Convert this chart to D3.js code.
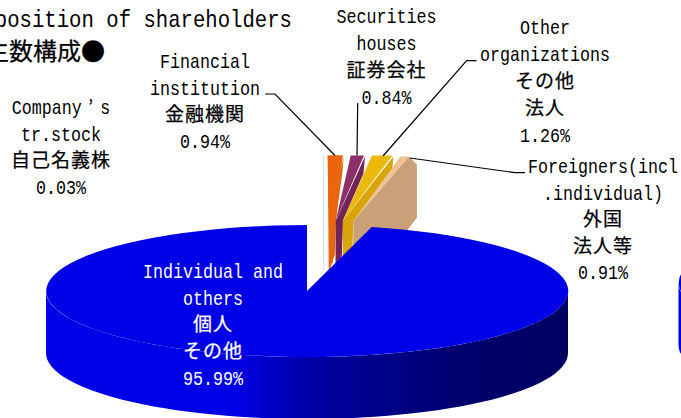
<!DOCTYPE html>
<html>
<head>
  <meta charset="utf-8">
  <title>Composition of shareholders</title>
  <script src="https://d3js.org/d3.v7.min.js"></script>
  <style type="text/css">
    html, body { margin: 0; padding: 0; background: #fff; overflow: hidden; }
    svg { display: block; }
    .latin { font-family: "Liberation Mono", monospace; font-size: 20px; }
    .cjk { font-family: "Noto Sans CJK JP", sans-serif; font-size: 19px; letter-spacing: 1px; stroke: currentColor; stroke-width: 0.25px; }
  </style>
</head>
<body>
  <svg id="chart" width="681" height="418"></svg>
  <script type="text/javascript">
    // values, in pie order (clockwise from the notch)
    const categories = ["Company's tr.stock", "Financial institution", "Securities houses", "Other organizations", "Foreigners(incl.individual)", "Individual and others"];
    const shares = [0.03, 0.94, 0.84, 1.26, 0.91, 95.99];
    const shareLabels = ["0.03%", "0.94%", "0.84%", "1.26%", "0.91%", "95.99%"];
    const labelLines = [
      ["Company’s", "tr.stock", "自己名義株"],
      ["Financial", "institution", "金融機関"],
      ["Securities", "houses", "証券会社"],
      ["Other", "organizations", "その他", "法人"],
      ["Foreigners(incl", ".individual)", "外国", "法人等"],
      ["Individual and", "others", "個人", "その他"]
    ];
    const titleLines = ["Composition of shareholders", "株主数構成●"];

    const width = 681, height = 418;
    const svg = d3.select("#chart");

    // colours: [top face, side face]
    const sliceColors = [["#a9c6c8", "#a9c6c8"], ["#ea650c", "#dc5e08"], ["#8b3068", "#722456"], ["#ebb90a", "#d8a406"], ["#efc193", "#c9a078"]];
    const blue = "#0000e6";

    const grad = svg.append("defs").append("linearGradient").attr("id", "wall");
    [[0, "#0000e6"], [0.36, "#0000e6"], [0.5, "#0000a8"], [0.6, "#000090"], [0.78, "#000070"], [1, "#000060"]]
      .forEach(s => grad.append("stop").attr("offset", s[0]).attr("stop-color", s[1]));

    // big flat pie
    const pieData = d3.pie().sort(null)(shares);
    const blueSlice = pieData[pieData.length - 1];
    const unitArc = d3.arc().innerRadius(0).outerRadius(1);
    const rx = 261, ry = 66, depth = 62;

    function drawPie(cx, cy) {
      const front = d3.range(0, 61).map(i => Math.PI / 2 + Math.PI * i / 60);
      const pts = front.map(a => [cx + rx * Math.sin(a), cy - ry * Math.cos(a)]);
      const lower = pts.map(p => [p[0], p[1] + depth]).reverse();
      svg.append("path")
        .attr("d", d3.line()(pts.concat(lower)) + "Z")
        .attr("fill", "url(#wall)");
      svg.append("path")
        .attr("d", unitArc(blueSlice))
        .attr("transform", `translate(${cx},${cy}) scale(${rx},${ry})`)
        .attr("fill", blue);
    }

    // small slices pulled out of the notch: rim width and apex follow the share
    const rimY = 155.5, wedgeDrop = 14, apexY = 221;
    const small = shares.slice(0, 5);
    const cum = d3.cumsum(small);
    const rimScale = d3.scaleLinear().domain([0, 1]).range([0, 17]);
    const apexX = d3.scaleLinear().domain([0, d3.max(cum) - small[4]]).range([327.6, 353.3]);

    let cursor = 323.2;
    const wedges = small.map((v, i) => {
      const x0 = cursor, x1 = x0 + rimScale(v);
      cursor = x1 + (i === 0 ? 4 : 7);
      const start = i === 0 ? 0 : cum[i - 1];
      return { i, x0, x1, ax: apexX(start) + (i === 1 ? 1 : 0) };
    });

    const poly = d3.line();
    const gLines = svg.append("g");

    // company's own stock is only a hair line
    const hair = wedges[0];
    gLines.append("path")
      .attr("d", poly([[hair.x0, rimY], [hair.x1, rimY], [hair.x1, 270], [hair.x0, 270]]) + "Z")
      .attr("fill", sliceColors[0][0]);

    wedges.slice(1).forEach(w => {
      const next = wedges[w.i + 1];
      const A = [w.ax, apexY];
      let wall, top;
      if (next) {
        wall = [A, [w.x1, rimY + 1], [w.x1 - 1.5, rimY + wedgeDrop + 4], [next.ax, apexY], [next.ax - 1, apexY + 34], [w.ax, apexY + 50]];
        top = [A, [w.x0, rimY], [w.x1 - 1, rimY]];
      } else {
        wall = [A, [w.x1 - 7, rimY + 1], [w.x1 + 1, rimY + 9], [w.x1 + 1, rimY + 62], [w.x1 - 8, rimY + 74], [w.ax, apexY + 50]];
        top = [A, [w.x0, rimY + 1], [w.x1 - 7, rimY + 1]];
      }
      gLines.append("path").attr("d", poly(wall) + "Z").attr("fill", sliceColors[w.i][1]);
      gLines.append("path").attr("d", poly(top) + "Z").attr("fill", sliceColors[w.i][0]);
    });

    // orange keeps its light face down to the tip
    const orange = wedges[1];
    gLines.append("path")
      .attr("d", poly([[orange.x0, rimY], [orange.x1 - 1, rimY], [orange.ax + 7, apexY], [orange.ax + 4, 262], [orange.ax, 270]]) + "Z")
      .attr("fill", sliceColors[1][0]);
    const purple = wedges[2], yellow = wedges[3];
    gLines.append("path")
      .attr("d", poly([[purple.ax, apexY], [yellow.ax, apexY], [yellow.ax - 1, apexY + 34], [purple.ax, apexY + 50]]) + "Z")
      .attr("fill", sliceColors[2][1]);

    drawPie(307, 291);
    drawPie(680 + rx - 1.5, 283);

    // leader lines
    const leaders = [
      [[265, 94], [275, 94], [335, rimY]],
      [[357.7, 103], [357, rimY]],
      [[476.5, 60.7], [466.7, 60.7], [383, rimY + 0.5]],
      [[525, 172.7], [515, 172.7], [410, 158]]
    ];
    svg.append("g").selectAll("path").data(leaders).join("path")
      .attr("d", d => poly(d))
      .attr("fill", "none").attr("stroke", "#000").attr("stroke-width", 1.2);

    // text, latin lines are squeezed sideways to get the tall narrow look
    const squeeze = 0.834;
    function putLine(s, x, y, color) {
      const hasLatin = /[\x00-\x7f]/.test(s);
      const t = svg.append("text").attr("text-anchor", "middle").attr("fill", color).style("color", color)
        .attr("transform", `translate(${x},${y})` + (hasLatin ? ` scale(${squeeze},1)` : ""));
      s.split(/([^\x00-\x7f]+)/).filter(r => r).forEach((r, k) => {
        const wide = /[^\x00-\x7f]/.test(r);
        const span = t.append("tspan").attr("class", wide ? "cjk" : "latin").text(r);
        // full width quote sits in a wider cell than the latin letters
        if (k > 0 && hasLatin) span.attr("dx", 8);
      });
    }

    // label centre x, first line centre y, line step
    const labelSpots = [[61, 107, 26.7], [205, 61, 26.7], [386.5, 16, 27], [545, 27, 27], [603, 166, 26.5], [213, 271, 26.7]];
    labelLines.forEach((lines, i) => {
      const spot = labelSpots[i];
      const color = i === 5 ? "#fff" : "#000";
      lines.concat(shareLabels[i]).forEach((s, k) => {
        putLine(s, spot[0], spot[1] + k * spot[2] + 7, color);
      });
    });

    // title is cut by the page edge
    svg.append("text").attr("text-anchor", "end")
      .attr("transform", "translate(292,27) scale(0.86,1)")
      .style("font-family", '"Liberation Mono", monospace').style("font-size", "24px")
      .text(titleLines[0]);
    svg.append("text").attr("x", 105).attr("y", 60).attr("text-anchor", "end")
      .style("font-family", '"Noto Sans CJK JP", sans-serif').style("font-size", "24px")
      .style("stroke", "#000").style("stroke-width", "0.25px")
      .text(titleLines[1]);
  </script>
</body>
</html>
